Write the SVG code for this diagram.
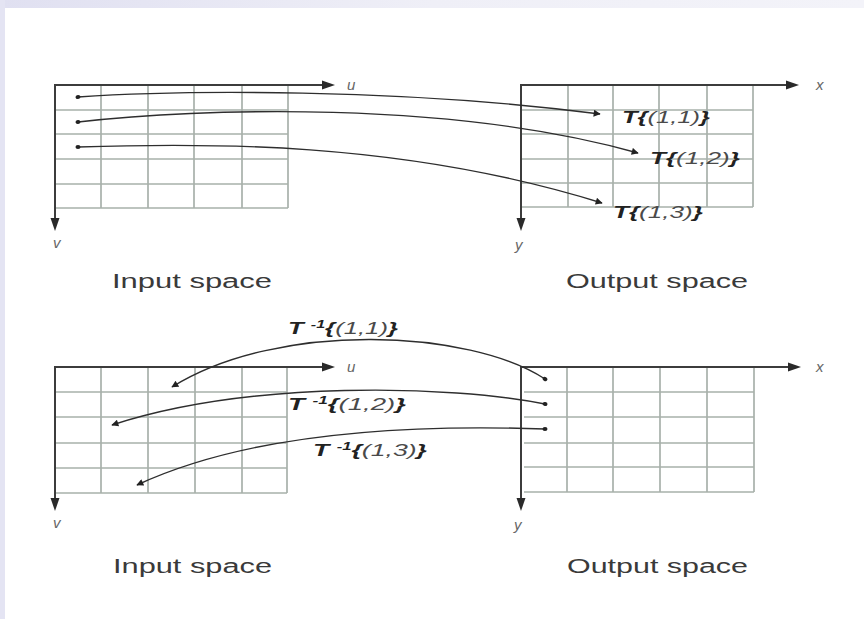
<svg xmlns="http://www.w3.org/2000/svg" width="864" height="619" viewBox="0 0 864 619">
<defs>
<linearGradient id="band" x1="0" y1="0" x2="1" y2="0">
<stop offset="0" stop-color="#e0e0f1"/>
<stop offset="0.5" stop-color="#efeff7"/>
<stop offset="1" stop-color="#f3f3f9"/>
</linearGradient>
<marker id="head" viewBox="0 0 10 10" refX="9" refY="5" markerWidth="10" markerHeight="7" markerUnits="userSpaceOnUse" orient="auto">
<path d="M0,0 L10,5 L0,10 Z" fill="#222"/>
</marker>
<marker id="dot" viewBox="0 0 10 10" refX="5" refY="5" markerWidth="6" markerHeight="5" markerUnits="userSpaceOnUse" orient="auto">
<ellipse cx="5" cy="5" rx="5" ry="4" fill="#222"/>
</marker>
</defs>
<style>
.axis{stroke:#3c3c3c;stroke-width:2;fill:none}
.ah{fill:#2a2a2a}
.grid{stroke:#a8b1ab;stroke-width:1.7;fill:none}
.curve{stroke:#2e2e2e;stroke-width:1.4;fill:none;marker-start:url(#dot);marker-end:url(#head)}
.ax{font-family:"Liberation Sans",Arial,sans-serif;font-style:italic;font-size:15px;fill:#666}
.cap{font-family:"Liberation Sans",Arial,sans-serif;font-size:20px;fill:#3a3a3a}
.lab{font-family:"Liberation Sans",Arial,sans-serif;font-style:italic;font-size:16px;fill:#222}
.b{font-weight:bold}
.t{fill:#4a4a4a}
.sup{font-size:10px;font-weight:bold}
</style>
<rect width="864" height="619" fill="#ffffff"/>
<rect x="0" y="0" width="864" height="8" fill="url(#band)"/>
<rect x="0" y="0" width="5" height="619" fill="#e4e4f3"/>

<g id="top-input">
<path class="grid" d="M55,110H288M55,134H288M55,159H288M55,184H288M55,208H288M101,85V208M148,85V208M194,85V208M242,85V208M288,85V208"/>
<path class="axis" d="M55,85H324M55,84V220"/>
<path class="ah" d="M322,80.5L335,85L322,89.5Z"/>
<path class="ah" d="M50.5,218L55,231L59.5,218Z"/>
<text class="ax" x="347" y="90">u</text>
<text class="ax" x="53" y="248">v</text>
<text class="cap" x="112" y="288" textLength="160" lengthAdjust="spacingAndGlyphs">Input space</text>
</g>

<g id="top-output">
<path class="grid" d="M521,110H753M521,134H753M521,159H753M521,183H753M521,207H753M568,85V207M613,85V207M659,85V207M707,85V207M753,85V207"/>
<path class="axis" d="M521,85H788M521,84V220"/>
<path class="ah" d="M786,80.5L799,85L786,89.5Z"/>
<path class="ah" d="M516.5,218L521,231L525.5,218Z"/>
<text class="ax" x="816" y="90">x</text>
<text class="ax" x="515" y="250">y</text>
<text class="cap" x="566" y="288" textLength="182" lengthAdjust="spacingAndGlyphs">Output space</text>
</g>

<g id="bottom-input">
<path class="grid" d="M55,392H287M55,417H287M55,443H287M55,468H287M55,493H287M101,367V493M148,367V493M195,367V493M242,367V493M287,367V493"/>
<path class="axis" d="M55,367H324M55,366V500"/>
<path class="ah" d="M322,362.5L335,367L322,371.5Z"/>
<path class="ah" d="M50.5,498L55,511L59.5,498Z"/>
<text class="ax" x="347" y="372">u</text>
<text class="ax" x="53" y="528">v</text>
<text class="cap" x="113" y="573" textLength="159" lengthAdjust="spacingAndGlyphs">Input space</text>
</g>

<g id="bottom-output">
<path class="grid" d="M524,392H754M524,417H754M524,443H754M524,467H754M524,492H754M567,367V492M613,367V492M660,367V492M707,367V492M754,367V492"/>
<path class="axis" d="M521,367H790M521,366V500"/>
<path class="ah" d="M788,362.5L801,367L788,371.5Z"/>
<path class="ah" d="M516.5,498L521,511L525.5,498Z"/>
<text class="ax" x="816" y="372">x</text>
<text class="ax" x="514" y="530">y</text>
<text class="cap" x="567" y="573" textLength="181" lengthAdjust="spacingAndGlyphs">Output space</text>
</g>

<g id="connectors">
<path class="curve" d="M78,97 C180,90 400,88 600,114"/>
<path class="curve" d="M78,122 C200,108 450,100 638,153"/>
<path class="curve" d="M78,147 C200,143 400,140 602,203"/>
<path class="curve" d="M545,379 C470,330 280,320 172,387"/>
<path class="curve" d="M545,404 C450,385 250,380 112,425"/>
<path class="curve" d="M545,429 C430,425 260,428 137,485"/>
</g>

<g id="labels">
<text class="lab" x="622" y="123" textLength="88" lengthAdjust="spacingAndGlyphs"><tspan class="b">T{</tspan><tspan class="t">(1,1)</tspan><tspan class="b">}</tspan></text>
<text class="lab" x="650" y="164" textLength="90" lengthAdjust="spacingAndGlyphs"><tspan class="b">T{</tspan><tspan class="t">(1,2)</tspan><tspan class="b">}</tspan></text>
<text class="lab" x="613" y="218" textLength="90" lengthAdjust="spacingAndGlyphs"><tspan class="b">T{</tspan><tspan class="t">(1,3)</tspan><tspan class="b">}</tspan></text>
<text class="lab" x="288" y="334" textLength="110" lengthAdjust="spacingAndGlyphs"><tspan class="b">T </tspan><tspan class="sup" dy="-6">-1</tspan><tspan class="b" dy="6">{</tspan><tspan class="t">(1,1)</tspan><tspan class="b">}</tspan></text>
<text class="lab" x="288" y="410" textLength="118" lengthAdjust="spacingAndGlyphs"><tspan class="b">T </tspan><tspan class="sup" dy="-6">-1</tspan><tspan class="b" dy="6">{</tspan><tspan class="t">(1,2)</tspan><tspan class="b">}</tspan></text>
<text class="lab" x="313" y="456" textLength="114" lengthAdjust="spacingAndGlyphs"><tspan class="b">T </tspan><tspan class="sup" dy="-6">-1</tspan><tspan class="b" dy="6">{</tspan><tspan class="t">(1,3)</tspan><tspan class="b">}</tspan></text>
</g>
</svg>
